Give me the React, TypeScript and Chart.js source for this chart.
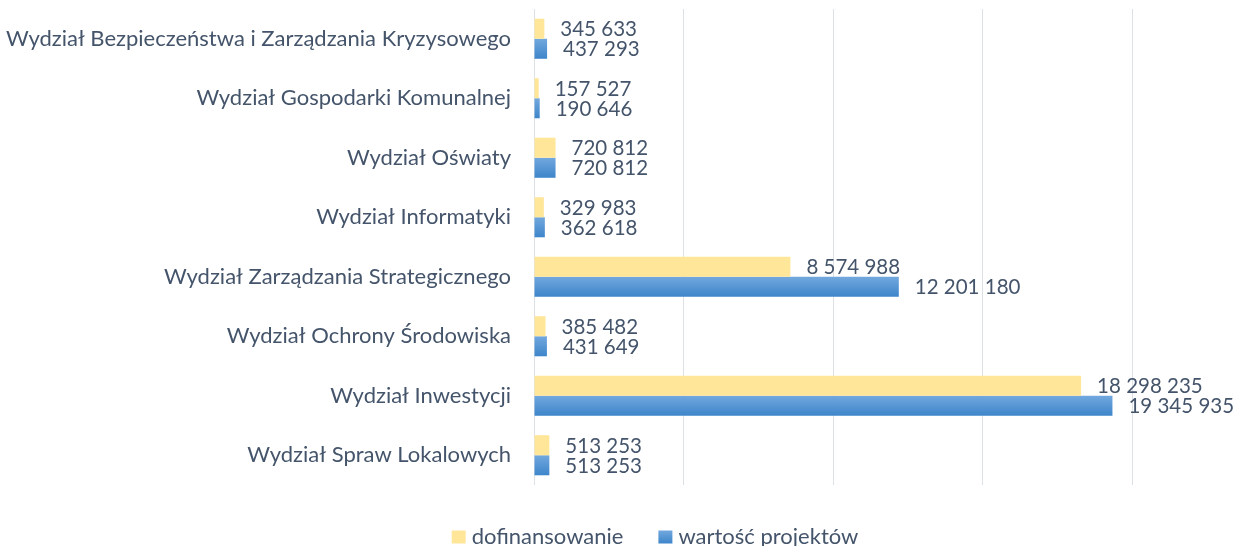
import React, { useEffect, useRef } from 'react';
import { Chart, registerables } from 'chart.js';

Chart.register(...registerables);

const categories = [
  'Wydział Bezpieczeństwa i Zarządzania Kryzysowego',
  'Wydział Gospodarki Komunalnej',
  'Wydział Oświaty',
  'Wydział Informatyki',
  'Wydział Zarządzania Strategicznego',
  'Wydział Ochrony Środowiska',
  'Wydział Inwestycji',
  'Wydział Spraw Lokalowych',
];
const dofinansowanie = [345633, 157527, 720812, 329983, 8574988, 385482, 18298235, 513253];
const wartoscProjektow = [437293, 190646, 720812, 362618, 12201180, 431649, 19345935, 513253];
const seriesLabels = ['dofinansowanie', 'wartość projektów'];
const xMax = 20000000;
const xStep = 5000000;

const FONT = 'Lato';
const TEXT = '#44546A';
const YELLOW = '#FFE699';
const BLUE_TOP = '#72A8DE';
const BLUE_BOTTOM = '#3D85CA';

const fmt = (v: number) => String(v).replace(/\B(?=(\d{3})+(?!\d))/g, ' ');

const blueGradient = (ctx: CanvasRenderingContext2D, y0: number, y1: number) => {
  const g = ctx.createLinearGradient(0, y0, 0, y1);
  g.addColorStop(0, BLUE_TOP);
  g.addColorStop(1, BLUE_BOTTOM);
  return g;
};

const gradientPlugin = {
  id: 'barGradient',
  beforeDatasetsDraw(chart: any) {
    const ctx = chart.ctx;
    const meta = chart.getDatasetMeta(1);
    meta.data.forEach((el: any) => {
      const { y, height } = el.getProps(['y', 'height'], true);
      const g = blueGradient(ctx, y - height / 2, y + height / 2);
      el.options = Object.assign({}, el.options, { backgroundColor: g });
    });
  },
};

const valueLabelPlugin = {
  id: 'valueLabels',
  afterDatasetsDraw(chart: any) {
    const ctx = chart.ctx;
    ctx.save();
    ctx.font = `20.5px ${FONT}`;
    ctx.fillStyle = TEXT;
    ctx.textAlign = 'left';
    ctx.textBaseline = 'middle';
    chart.data.datasets.forEach((ds: any, i: number) => {
      const meta = chart.getDatasetMeta(i);
      meta.data.forEach((el: any, j: number) => {
        ctx.fillText(fmt(ds.data[j]), el.x + 16, el.y + 1);
      });
    });
    ctx.restore();
  },
};

const legendPlugin = {
  id: 'customLegend',
  afterDraw(chart: any) {
    const ctx = chart.ctx;
    ctx.save();
    ctx.font = `22px ${FONT}`;
    ctx.textBaseline = 'middle';
    ctx.textAlign = 'left';
    const box = 14;
    const gapBoxText = 6;
    const gapItems = 35;
    const widths = seriesLabels.map((t) => box + gapBoxText + ctx.measureText(t).width);
    const total = widths[0] + gapItems + widths[1];
    const center = 655;
    const cy = 537;
    let x = center - total / 2;
    seriesLabels.forEach((t, i) => {
      ctx.fillStyle = i === 0 ? YELLOW : blueGradient(ctx, cy - 6.5, cy + 6.5);
      ctx.fillRect(x, cy - 6.5, box, 13);
      ctx.fillStyle = TEXT;
      ctx.fillText(t, x + box + gapBoxText, cy);
      x += widths[i] + gapItems;
    });
    ctx.restore();
  },
};

export default function App() {
  const ref = useRef<HTMLCanvasElement>(null);
  useEffect(() => {
    document.body.style.margin = '0';
    const chart = new Chart(ref.current!, {
      type: 'bar',
      data: {
        labels: categories,
        datasets: [
          {
            label: seriesLabels[0],
            data: dofinansowanie,
            backgroundColor: YELLOW,
            categoryPercentage: 0.673,
            barPercentage: 1,
          },
          {
            label: seriesLabels[1],
            data: wartoscProjektow,
            backgroundColor: BLUE_BOTTOM,
            categoryPercentage: 0.673,
            barPercentage: 1,
          },
        ],
      },
      options: {
        indexAxis: 'y',
        responsive: false,
        maintainAspectRatio: false,
        animation: false,
        layout: { padding: { top: 9, right: 103, left: 0, bottom: 0 } },
        plugins: {
          legend: { display: false },
          tooltip: { enabled: false },
        },
        scales: {
          x: {
            min: 0,
            max: xMax,
            ticks: { display: false, stepSize: xStep },
            grid: { color: '#DCE1E8', lineWidth: 1, drawTicks: false },
            border: { display: false },
            afterFit: (s: any) => {
              s.height = 61;
              s.paddingLeft = 0;
              s.paddingRight = 0;
            },
          },
          y: {
            grid: { display: false, drawTicks: false },
            border: { display: false },
            ticks: {
              color: TEXT,
              font: { family: FONT, size: 22 },
              padding: 23,
            },
            afterFit: (s: any) => {
              s.width = 534;
              s.paddingTop = 0;
              s.paddingBottom = 0;
            },
          },
        },
      },
      plugins: [gradientPlugin, valueLabelPlugin, legendPlugin],
    });
    return () => chart.destroy();
  }, []);
  return <canvas ref={ref} width={1235} height={546} style={{ display: 'block' }} />;
}
